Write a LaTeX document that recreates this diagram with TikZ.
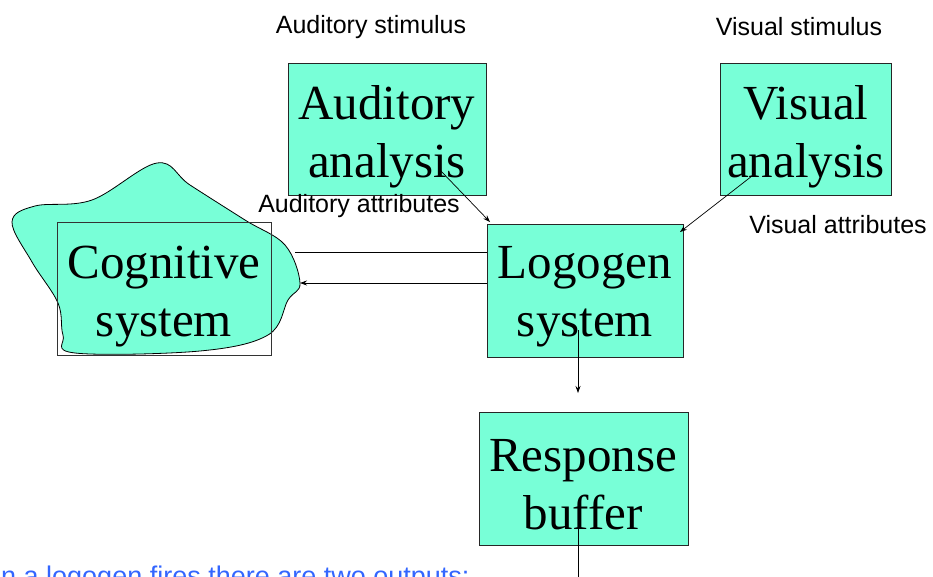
\documentclass[tikz,border=0pt]{standalone}
\usepackage{fontspec}
\setmainfont{Liberation Serif}
\newfontfamily\labelfont{Liberation Sans}
\usetikzlibrary{arrows.meta}
\definecolor{boxfill}{RGB}{120,255,215}
\definecolor{noteblue}{RGB}{51,102,255}
\begin{document}
\begin{tikzpicture}[x=1pt,y=-1pt,
  boxnode/.style={draw=black!85,fill=boxfill,line width=0.8pt,align=center,inner sep=0pt},
  boxtext/.style={align=center,font=\fontsize{49}{58}\selectfont,inner sep=0pt},
  lbl/.style={font=\labelfont\fontsize{25}{28}\selectfont,inner sep=0pt},
  arr/.style={-{Stealth[length=7pt,width=5pt]},line width=0.7pt}]
\useasboundingbox (0,0) rectangle (933,576);
\clip (0,0) rectangle (933,576);
% blob
\draw[fill=boxfill,line width=0.8pt] plot[smooth cycle,tension=0.6] coordinates {
 (12,222) (35,206) (92,200) (157,163) (190,185) (245,220) (285,245) (300,283)
 (288,300) (268,335) (200,351) (75,353) (63,335) (58,303) (32,262)};
% cognitive rectangle
\draw[black!80,line width=0.8pt] (57,222) rectangle (271,355);
\node[boxtext] (cog) at (164,297) {Cognitive\\system};
% boxes
\path[boxnode] (288,63) rectangle (486,195);
\node[boxtext] (aud) at (387,137) {Auditory\\analysis};
\path[boxnode] (720,63) rectangle (891,195);
\node[boxtext] (vis) at (806,137) {Visual\\analysis};
\path[boxnode] (487,224) rectangle (683,357);
\node[boxtext] (logo) at (585,297) {Logogen\\system};
\path[boxnode] (479,412) rectangle (688,545);
\node[boxtext] (resp) at (583,485) {Response\\buffer};
% labels
\node[lbl] (ls1) at (371,27) {Auditory stimulus};
\node[lbl] (ls2) at (799,27) {Visual stimulus};
\node[lbl] (la) at (359,206) {Auditory attributes};
\node[lbl] (lv) at (838,225) {Visual attributes};
\node[anchor=base west,inner sep=0pt,font=\labelfont\fontsize{27}{30}\selectfont,text=noteblue] (note) at (1,585) {n a logogen fires there are two outputs:};
% connectors
\coordinate (a1) at (440,170); \coordinate (a2) at (490,222);
\draw[arr] (a1) -- (a2);
\coordinate (v1) at (752,176); \coordinate (v2) at (680,232);
\draw[arr] (v1) -- (v2);
\coordinate (c1) at (487,252); \coordinate (c2) at (295,252);
\draw[line width=0.8pt] (c1) -- (c2);
\coordinate (c3) at (487,283); \coordinate (c4) at (300,283);
\draw[arr] (c3) -- (c4);
\coordinate (r1) at (578,330); \coordinate (r2) at (578,393);
\draw[arr] (r1) -- (r2);
\coordinate (b1) at (578,515); \coordinate (b2) at (578,580);
\draw[line width=0.7pt] (b1) -- (b2);
\end{tikzpicture}
\end{document}
